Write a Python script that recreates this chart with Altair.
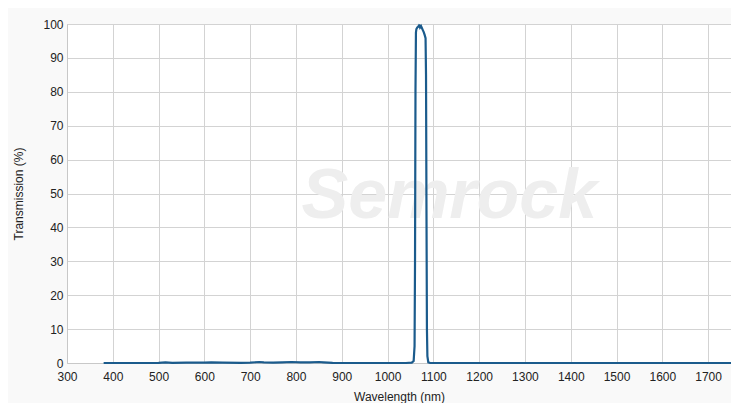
import altair as alt
import pandas as pd

# Transmission spectrum
wavelength = [380, 400, 450, 500, 515, 530, 560, 600, 615, 640, 680, 700, 720, 730,
              750, 770, 790, 810, 830, 850, 860, 880, 900, 950, 1000, 1040, 1053,
              1057, 1059, 1060, 1061, 1062, 1063, 1065, 1067, 1069, 1070, 1071,
              1073, 1075, 1077, 1079, 1081, 1083, 1084, 1085, 1086, 1087, 1089,
              1093, 1100, 1200, 1300, 1400, 1500, 1600, 1700, 1750]
transmission = [0.0, 0.0, 0.0, 0.05, 0.2, 0.05, 0.1, 0.1, 0.2, 0.1, 0.05, 0.1, 0.3, 0.2,
                0.1, 0.2, 0.3, 0.2, 0.2, 0.3, 0.2, 0.05, 0.0, 0.0, 0.0, 0.0, 0.1,
                0.6, 5.0, 30.0, 80.0, 97.5, 98.5, 99.0, 99.2, 99.6, 99.5, 99.0,
                99.4, 98.8, 98.2, 97.6, 96.8, 95.8, 85.0, 45.0, 10.0, 2.0, 0.2,
                0.0, 0.0, 0.0, 0.0, 0.0, 0.0, 0.0, 0.0, 0.0]

x_ticks = list(range(300, 1800, 100))
y_ticks = list(range(0, 110, 10))

df = pd.DataFrame({"wl": wavelength, "t": transmission})
wm = pd.DataFrame({"wl": [1135], "t": [49], "label": ["Semrock"]})

font = "Liberation Sans"

x = alt.X("wl:Q", scale=alt.Scale(domain=[300, 1750], nice=False, zero=False),
          axis=alt.Axis(title="Wavelength (nm)", values=x_ticks, format="d",
                        ticks=False, labelPadding=8, titlePadding=9,
                        labelFlush=False))
y = alt.Y("t:Q", scale=alt.Scale(domain=[0, 100], nice=False),
          axis=alt.Axis(title="Transmission (%)", values=y_ticks, ticks=False,
                        labelPadding=4, titlePadding=17))

watermark = alt.Chart(wm).mark_text(
    font=font, fontSize=70, fontStyle="italic", fontWeight="bold",
    color="#eeeeee", align="center", baseline="middle"
).encode(x=x, y=y, text="label:N")

line = alt.Chart(df).mark_line(color="#1b5b8c", strokeWidth=2.2, interpolate="linear").encode(
    x=x, y=y
)

chart = alt.layer(watermark, line).properties(
    width=664, height=339,
    padding={"left": 59, "top": 16, "right": 0, "bottom": 40},
    autosize=alt.AutoSizeParams(type="none"),
    background="#f9f9f9",
).configure_view(
    fill="white", stroke="#cccccc", strokeWidth=1
).configure_axis(
    labelFont=font, titleFont=font, labelFontSize=12, titleFontSize=12,
    labelColor="#222222", titleColor="#222222", titleFontWeight="normal",
    gridColor="#d3d3d3", gridWidth=1, domainColor="#c8c8c8",
)

chart.save("out.html", embed_options={"renderer": "svg", "actions": False})
